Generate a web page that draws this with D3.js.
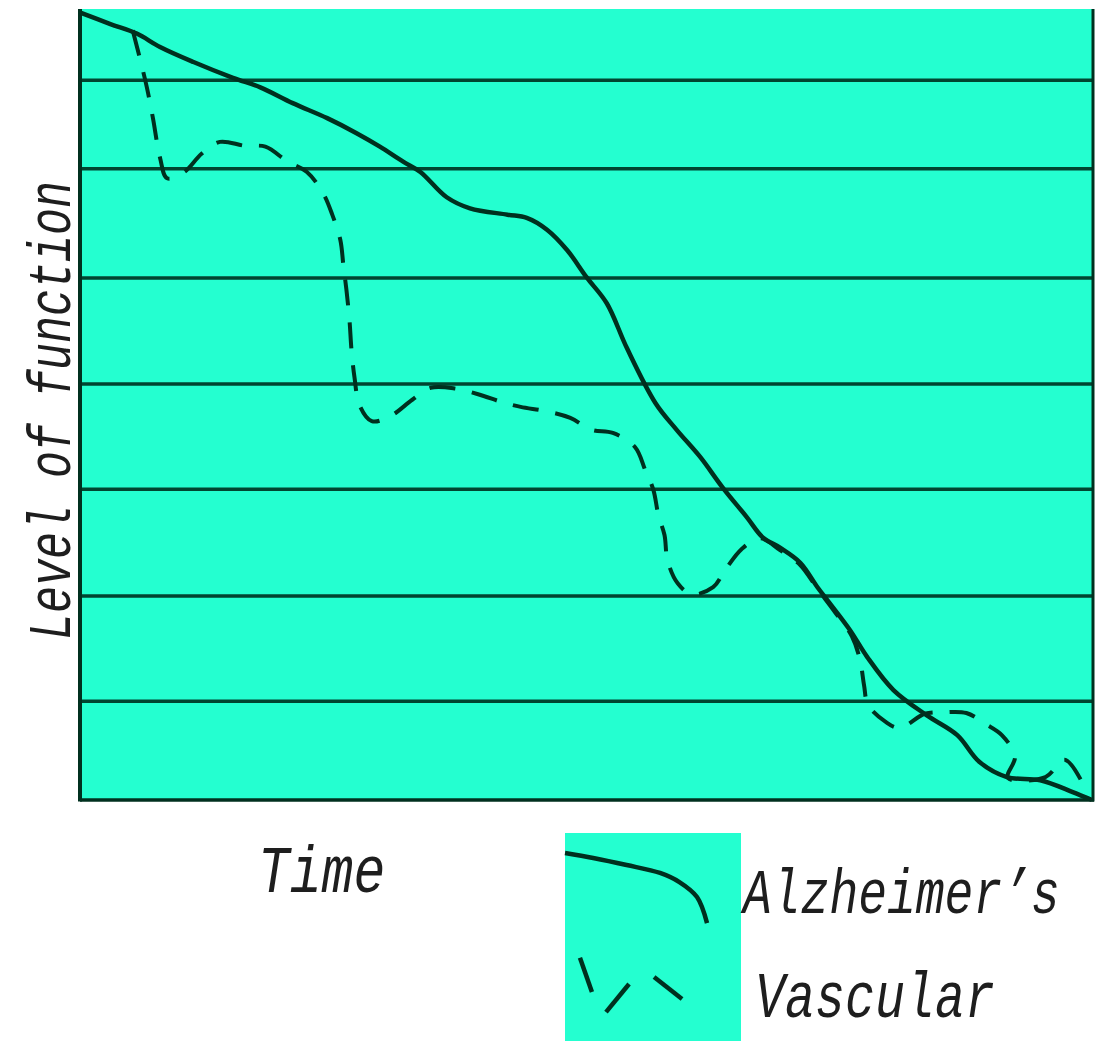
<!DOCTYPE html>
<html>
<head>
<meta charset="utf-8">
<script src="https://cdn.jsdelivr.net/npm/d3@7"></script>
<style>
  html, body { margin: 0; padding: 0; background: #ffffff; }
  svg { display: block; }
  .lbl { font-family: "Liberation Mono", "DejaVu Sans Mono", monospace; font-style: italic; fill: #1e1e1e; }
</style>
</head>
<body>
<svg id="chart" width="1095" height="1041"></svg>
<script>
// ---- data (time 0-100, level of function 0-100) ----
const alzTime  = [0.1, 3.0, 5.6, 7.9, 11.2, 15.1, 17.8, 21.0, 24.4, 27.3, 29.6, 31.9, 33.6, 36.2, 38.5, 42.2, 44.1, 46.1, 48.1, 50.0, 52.0, 54.0, 56.8, 58.9, 61.2, 63.5, 65.8, 67.4, 69.1, 71.1, 72.8, 74.0, 76.0, 77.7, 80.3, 83.6, 86.6, 88.8, 91.5, 94.8, 98.0, 99.9];
const alzLevel = [99.5, 98.1, 96.9, 95.2, 93.3, 91.3, 90.1, 88.1, 86.2, 84.3, 82.6, 80.7, 79.4, 76.2, 74.8, 74.0, 73.6, 72.1, 69.5, 66.1, 62.8, 57.1, 50.2, 46.8, 43.4, 39.4, 35.8, 33.2, 31.9, 30.0, 26.9, 24.9, 21.5, 18.1, 13.9, 10.7, 8.2, 4.8, 2.9, 2.5, 1.0, 0.0];

const vasTime  = [5.2, 6.0, 6.6, 7.2, 7.9, 8.6, 10.3, 12.0, 13.8, 16.3, 18.3, 20.5, 22.4, 24.0, 24.9, 25.7, 26.0, 26.3, 26.6, 26.8, 27.1, 27.6, 28.8, 30.6, 32.8, 34.6, 37.1, 39.3, 41.9, 43.5, 46.2, 48.4, 50.5, 52.6, 54.8, 55.8, 56.6, 57.1, 57.7, 58.0, 59.0, 60.4, 62.5, 63.7, 65.3, 67.1, 69.1, 71.1, 72.8, 74.5, 76.2, 77.0, 77.4, 77.8, 79.5, 80.9, 83.4, 85.4, 87.5, 89.4, 91.0, 92.3, 91.6, 95.3, 97.2, 98.9];
const vasLevel = [97.3, 93.3, 90.1, 86.2, 81.2, 78.6, 79.4, 81.7, 83.2, 82.7, 82.6, 80.7, 79.4, 76.7, 74.0, 70.8, 67.6, 64.5, 60.7, 56.9, 53.4, 49.9, 47.9, 48.5, 50.6, 52.1, 52.0, 51.3, 50.2, 49.7, 49.1, 48.3, 46.8, 46.4, 44.6, 41.7, 39.2, 36.0, 33.5, 30.3, 27.4, 26.0, 26.9, 29.1, 31.7, 33.1, 31.6, 29.7, 26.7, 23.8, 20.7, 17.7, 14.5, 12.0, 9.9, 9.1, 10.9, 11.1, 11.0, 9.6, 8.2, 5.5, 2.8, 2.9, 5.1, 2.3];

const gridLevels = [12.5, 25.8, 39.3, 52.6, 66.0, 79.8, 91.0];

const xTitle = "Time";
const yTitle = "Level of function";
const seriesNames = ["Alzheimer\u2019s", "Vascular"];

// legend glyph shapes (unit coordinates inside the legend swatch)
const legendSolidX = [0.0, 0.16, 0.35, 0.54, 0.65, 0.75, 0.807];
const legendSolidY = [0.096, 0.12, 0.154, 0.192, 0.236, 0.308, 0.433];
const legendDashX = [[0.085, 0.153], [0.233, 0.364], [0.506, 0.665]];
const legendDashY = [[0.60, 0.764], [0.861, 0.726], [0.692, 0.798]];

// ---- drawing ----
const bg = "#24FFD0";
const ink = "#00301f";
const gridInk = "#004530";

const svg = d3.select("#chart");
const plot = { left: 80, right: 1093, top: 9, bottom: 800 };

const x = d3.scaleLinear().domain([0, 100]).range([plot.left, plot.right]);
const y = d3.scaleLinear().domain([0, 100]).range([plot.bottom, plot.top]);

svg.append("rect")
  .attr("x", plot.left).attr("y", plot.top)
  .attr("width", plot.right - plot.left).attr("height", plot.bottom - plot.top)
  .attr("fill", bg);

// gridlines
svg.append("g").selectAll("line").data(gridLevels).join("line")
  .attr("x1", plot.left).attr("x2", plot.right)
  .attr("y1", d => y(d)).attr("y2", d => y(d))
  .attr("stroke", gridInk).attr("stroke-width", 3.5);

// frame: left, bottom, right
svg.append("line").attr("x1", plot.left).attr("x2", plot.left).attr("y1", plot.top).attr("y2", plot.bottom + 1.5)
  .attr("stroke", ink).attr("stroke-width", 4);
svg.append("line").attr("x1", plot.left).attr("x2", plot.right + 1).attr("y1", plot.bottom).attr("y2", plot.bottom)
  .attr("stroke", ink).attr("stroke-width", 3.5);
svg.append("line").attr("x1", plot.right).attr("x2", plot.right).attr("y1", plot.top).attr("y2", plot.bottom + 1.5)
  .attr("stroke", ink).attr("stroke-width", 3);

const line = d3.line().x(d => x(d[0])).y(d => y(d[1])).curve(d3.curveCatmullRom.alpha(0.5));

const alzData = alzTime.map((t, i) => [t, alzLevel[i]]);
const vasData = vasTime.map((t, i) => [t, vasLevel[i]]);

svg.append("path").datum(vasData).attr("d", line)
  .attr("fill", "none").attr("stroke", ink).attr("stroke-width", 4)
  .attr("stroke-dasharray", "26,17");

svg.append("path").datum(alzData).attr("d", line)
  .attr("fill", "none").attr("stroke", ink).attr("stroke-width", 4.5);

// axis titles
svg.append("text").attr("class", "lbl")
  .attr("transform", "translate(258,892) scale(1,1.26)")
  .attr("font-size", 53)
  .text(xTitle);

svg.append("text").attr("class", "lbl")
  .attr("transform", "translate(70,640) rotate(-90) scale(1,1.36)")
  .attr("font-size", 45)
  .text(yTitle);

// legend
const lg = { left: 565, top: 833, w: 176, h: 208 };
const lx = d3.scaleLinear().domain([0, 1]).range([lg.left, lg.left + lg.w]);
const ly = d3.scaleLinear().domain([0, 1]).range([lg.top, lg.top + lg.h]);

svg.append("rect").attr("x", lg.left).attr("y", lg.top).attr("width", lg.w).attr("height", lg.h).attr("fill", bg);

const legLine = d3.line().x(d => lx(d[0])).y(d => ly(d[1])).curve(d3.curveCatmullRom.alpha(0.5));
svg.append("path").datum(legendSolidX.map((v, i) => [v, legendSolidY[i]])).attr("d", legLine)
  .attr("fill", "none").attr("stroke", ink).attr("stroke-width", 4.5);

svg.append("g").selectAll("line").data(legendDashX.map((xs, i) => [xs, legendDashY[i]])).join("line")
  .attr("x1", d => lx(d[0][0])).attr("x2", d => lx(d[0][1]))
  .attr("y1", d => ly(d[1][0])).attr("y2", d => ly(d[1][1]))
  .attr("stroke", ink).attr("stroke-width", 4.5);

svg.append("text").attr("class", "lbl")
  .attr("transform", "translate(743,913) scale(1,1.3)")
  .attr("font-size", 48)
  .text(seriesNames[0]);

svg.append("text").attr("class", "lbl")
  .attr("transform", "translate(755,1017) scale(1,1.3)")
  .attr("font-size", 50)
  .text(seriesNames[1]);
</script>
</body>
</html>
